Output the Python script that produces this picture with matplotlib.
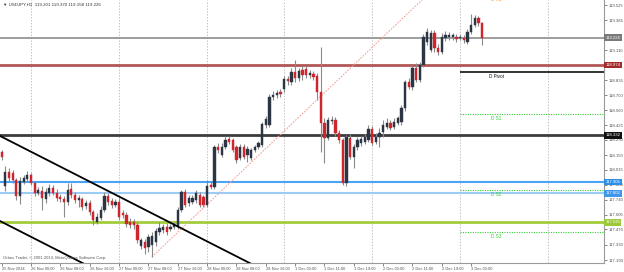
import matplotlib
matplotlib.use('Agg')
import matplotlib.pyplot as plt

plt.rcParams['font.family'] = ['Liberation Sans', 'DejaVu Sans']

# USDJPY H1 candles, 25 Nov 16:00 .. 3 Dec 06:00 (x = bar number on the time axis)
opens = [118.179, 117.868, 117.996, 117.987, 117.923, 117.776, 117.904, 117.932, 117.969, 117.895,
         117.804, 117.822, 117.749, 117.804, 117.849, 117.804, 117.767, 117.749, 117.721, 117.840,
         117.785, 117.740, 117.749, 117.685, 117.712, 117.630, 117.538, 117.575, 117.648, 117.776,
         117.730, 117.694, 117.721, 117.621, 117.602, 117.538, 117.538, 117.511, 117.318, 117.355,
         117.309, 117.328, 117.355, 117.447, 117.465, 117.492, 117.474, 117.492, 117.492, 117.648,
         117.813, 117.712, 117.721, 117.740, 117.785, 117.767, 117.694, 117.877, 117.859, 118.225,
         118.152, 118.225, 118.298, 118.289, 118.225, 118.124, 118.225, 118.152, 118.124, 118.197,
         118.225, 118.243, 118.426, 118.426, 118.683, 118.701, 118.729, 118.756, 118.848, 118.820,
         118.912, 118.857, 118.930, 118.939, 118.884, 118.893, 118.875, 118.729, 118.445, 118.307,
         118.463, 118.472, 118.353, 118.289, 117.895, 118.307, 118.133, 118.225, 118.262, 118.271,
         118.289, 118.390, 118.271, 118.316, 118.362, 118.408, 118.445, 118.408, 118.445, 118.454,
         118.582, 118.820, 118.774, 118.948, 118.838, 118.976, 119.186, 119.113, 119.269, 119.131,
         119.095, 119.223, 119.232, 119.232, 119.232, 119.223, 119.223, 119.186, 119.278, 119.342,
         119.406, 119.360]
highs = [118.197, 118.051, 118.033, 118.014, 117.941, 117.950, 117.969, 118.005, 117.987, 117.914,
         117.859, 117.868, 117.849, 117.886, 117.877, 117.840, 117.795, 117.776, 117.895, 117.895,
         117.813, 117.785, 117.767, 117.740, 117.740, 117.648, 117.621, 117.685, 117.813, 117.804,
         117.758, 117.749, 117.758, 117.648, 117.630, 117.575, 117.566, 117.538, 117.392, 117.382,
         117.428, 117.447, 117.483, 117.538, 117.520, 117.529, 117.520, 117.538, 117.676, 117.831,
         117.840, 117.785, 117.785, 117.831, 117.813, 117.785, 117.923, 117.904, 118.243, 118.262,
         118.262, 118.326, 118.326, 118.307, 118.243, 118.252, 118.252, 118.234, 118.216, 118.243,
         118.280, 118.454, 118.509, 118.710, 118.738, 118.747, 118.756, 118.875, 118.875, 118.948,
         119.022, 118.948, 118.967, 118.967, 118.930, 118.921, 118.903, 119.141, 118.490, 118.500,
         118.509, 118.500, 118.381, 118.307, 118.335, 118.344, 118.252, 118.316, 118.326, 118.344,
         118.426, 118.417, 118.353, 118.399, 118.472, 118.490, 118.472, 118.490, 118.509, 118.610,
         118.838, 118.857, 118.976, 118.994, 119.003, 119.260, 119.315, 119.296, 119.296, 119.168,
         119.269, 119.287, 119.278, 119.269, 119.260, 119.260, 119.251, 119.305, 119.443, 119.434,
         119.424, 119.370]
lows = [118.106, 117.822, 117.914, 117.895, 117.740, 117.703, 117.886, 117.914, 117.877, 117.776,
        117.785, 117.648, 117.712, 117.776, 117.785, 117.730, 117.721, 117.584, 117.694, 117.758,
        117.712, 117.676, 117.648, 117.657, 117.602, 117.511, 117.520, 117.556, 117.630, 117.694,
        117.666, 117.676, 117.556, 117.575, 117.492, 117.483, 117.474, 117.346, 117.291, 117.245,
        117.263, 117.218, 117.318, 117.419, 117.437, 117.419, 117.456, 117.474, 117.474, 117.630,
        117.676, 117.685, 117.703, 117.712, 117.676, 117.676, 117.676, 117.840, 117.840, 118.170,
        118.133, 118.207, 118.252, 118.179, 118.078, 118.106, 118.115, 118.088, 118.106, 118.179,
        118.207, 118.225, 118.399, 118.408, 118.655, 118.674, 118.683, 118.729, 118.793, 118.793,
        118.820, 118.829, 118.838, 118.857, 118.857, 118.838, 118.655, 118.179, 118.078, 118.289,
        118.436, 118.326, 118.262, 117.877, 117.868, 118.115, 118.033, 118.197, 118.234, 118.252,
        118.271, 118.243, 118.252, 118.225, 118.316, 118.390, 118.381, 118.390, 118.426, 118.426,
        118.555, 118.756, 118.747, 118.820, 118.820, 118.957, 119.159, 119.095, 119.095, 119.067,
        119.077, 119.196, 119.205, 119.205, 119.186, 119.205, 119.177, 119.168, 119.260, 119.324,
        119.333, 119.158]
closes = [118.133, 117.996, 117.941, 117.923, 117.776, 117.914, 117.941, 117.969, 117.895, 117.804,
          117.831, 117.758, 117.813, 117.849, 117.804, 117.758, 117.749, 117.721, 117.831, 117.785,
          117.740, 117.758, 117.676, 117.712, 117.630, 117.556, 117.584, 117.648, 117.776, 117.721,
          117.694, 117.721, 117.584, 117.602, 117.520, 117.511, 117.511, 117.373, 117.373, 117.300,
          117.401, 117.410, 117.456, 117.483, 117.492, 117.447, 117.492, 117.511, 117.648, 117.813,
          117.694, 117.758, 117.758, 117.804, 117.694, 117.694, 117.868, 117.859, 118.225, 118.197,
          118.225, 118.289, 118.271, 118.197, 118.106, 118.225, 118.133, 118.207, 118.197, 118.225,
          118.262, 118.436, 118.481, 118.683, 118.701, 118.719, 118.710, 118.848, 118.829, 118.912,
          118.857, 118.921, 118.884, 118.884, 118.903, 118.866, 118.729, 118.445, 118.307, 118.472,
          118.472, 118.353, 118.289, 117.895, 118.316, 118.133, 118.225, 118.289, 118.298, 118.316,
          118.390, 118.262, 118.316, 118.353, 118.426, 118.445, 118.399, 118.454, 118.490, 118.582,
          118.820, 118.774, 118.948, 118.838, 118.976, 119.232, 119.278, 119.269, 119.131, 119.095,
          119.232, 119.251, 119.251, 119.251, 119.214, 119.232, 119.205, 119.278, 119.342, 119.406,
          119.360, 119.226]

time_ticks = [0, 8, 16, 24, 32, 40, 48, 56, 64, 72, 80, 88, 96, 104, 112, 120, 128]
time_labels = ['25 Nov 2014', '26 Nov 00:00', '26 Nov 08:00', '26 Nov 16:00', '27 Nov 00:00',
               '27 Nov 08:00', '27 Nov 16:00', '28 Nov 00:00', '28 Nov 08:00', '28 Nov 16:00',
               '1 Dec 03:00', '1 Dec 11:00', '1 Dec 19:00', '2 Dec 03:00', '2 Dec 11:00',
               '2 Dec 19:00', '3 Dec 03:00']
day_breaks = [8, 32, 56, 77, 101, 125, 149]

# scale labels that are not hidden under a price box
price_ticks = [119.525, 119.385, 119.110, 118.835, 118.700, 118.560, 118.425,
               118.290, 118.150, 118.015, 117.880, 117.740, 117.605, 117.470, 117.330, 117.190]

# horizontal support / resistance levels
level_prices = [119.226, 118.974, 118.332, 117.906, 117.802, 117.535]
level_colors = ['#8c8c8c', '#b35656', '#3c3c3c', '#4aa3f5', '#9ccbf5', '#a3cc3c']
level_widths = [1.2, 2.0, 2.0, 1.5, 1.5, 2.0]
box_colors = ['#7a7a7a', '#a52a2a', '#111111', '#2e8fe8', '#3d97ea', '#9cc93a']

# daily pivots drawn from 3 Dec 00:00
pivot_names = ['D R1', 'D Pivot', 'D S1', 'D S2', 'D S3']
pivot_prices = [119.615, 118.912, 118.527, 117.828, 117.443]
pivot_colors = ['#ff9933', '#111111', '#33cc33', '#33cc33', '#33cc33']
pivot_start = 125

# trend lines (bar, price)
channel_upper = ([-0.5, 80.0], [118.327, 116.951])
channel_lower = ([-0.5, 80.0], [117.548, 116.172])
trend_up = ([40.95, 120.0], [117.218, 119.744])

header = '\u25bc USDJPY,H1  119.201 119.370 119.158 119.226'
copyright_text = 'Orbex Trader, \u00a9 2001-2014, MetaQuotes Software Corp.'

fig = plt.figure(figsize=(6.24, 2.72), dpi=100)
ax = fig.add_axes([0, 9 / 272, 604 / 624, 263 / 272])
x_max = 164.25
ax.set_xlim(-0.46, x_max)
ax.set_ylim(117.163, 119.571)

# day separators
for d in day_breaks:
    ax.axvline(d, color='#c4c4c4', lw=0.7, ls=(0, (1.5, 1.5)), zorder=1)

# levels
for p, c, w in zip(level_prices, level_colors, level_widths):
    ax.axhline(p, color=c, lw=w, zorder=2)

ax.plot(trend_up[0], trend_up[1], color='#f4a49c', lw=0.8, ls=(0, (1.5, 1.2)), zorder=2.5)

# candles
xs = list(range(len(opens)))
ax.vlines(xs, lows, highs, color='#8a8a8a', lw=0.8, zorder=3)
bottoms = [min(o, c) for o, c in zip(opens, closes)]
heights = [max(abs(c - o), 0.002) for o, c in zip(opens, closes)]
colors = ['#2b3543' if c >= o else '#d0262b' for o, c in zip(opens, closes)]
ax.bar(xs, heights, width=0.62, bottom=bottoms, color=colors, edgecolor=colors, lw=0.3, zorder=4)

ax.plot(channel_upper[0], channel_upper[1], color='black', lw=1.3, zorder=5)
ax.plot(channel_lower[0], channel_lower[1], color='black', lw=1.3, zorder=5)

# pivot lines and their names
for name, p, c in zip(pivot_names, pivot_prices, pivot_colors):
    if name == 'D Pivot':
        ax.hlines(p, pivot_start, x_max, color=c, lw=1.2, zorder=5)
    else:
        ax.hlines(p, pivot_start, x_max, color=c, lw=0.8, ls=(0, (1, 1.2)), zorder=5)
    ax.text(134.8, p - 0.014, name, ha='center', va='top', fontsize=3.3, color=c, clip_on=True, zorder=6)

# axes look
for side in ['left', 'top']:
    ax.spines[side].set_visible(False)
for side in ['right', 'bottom']:
    ax.spines[side].set_color('#9a9a9a')
    ax.spines[side].set_linewidth(0.8)

ax.yaxis.tick_right()
ax.set_yticks(price_ticks)
ax.set_yticklabels([f'{p:.3f}' for p in price_ticks])
ax.tick_params(axis='y', length=2, width=0.5, pad=1, labelsize=3.1, colors='#555555')

ax.set_xticks(time_ticks)
ax.set_xticklabels(time_labels, ha='left')
ax.tick_params(axis='x', length=2, width=0.5, pad=1, labelsize=2.9, colors='#555555')

# price boxes on the right scale
for p, c in zip(level_prices, box_colors):
    ax.annotate(f'{p:.3f}', xy=(1, p), xycoords=('axes fraction', 'data'), xytext=(1.0, 0),
                textcoords='offset points', ha='left', va='center', fontsize=3.1, color='white',
                bbox=dict(boxstyle='square,pad=0.3', fc=c, ec='none'),
                annotation_clip=False, zorder=10)

fig.text(3 / 624, 1 - 5 / 272, header, fontsize=3.2, va='center', color='#333333')
fig.text(3 / 624, 1 - 258 / 272, copyright_text, fontsize=3.0, va='center', color='#555555')

fig.savefig('out.png', dpi=100)
